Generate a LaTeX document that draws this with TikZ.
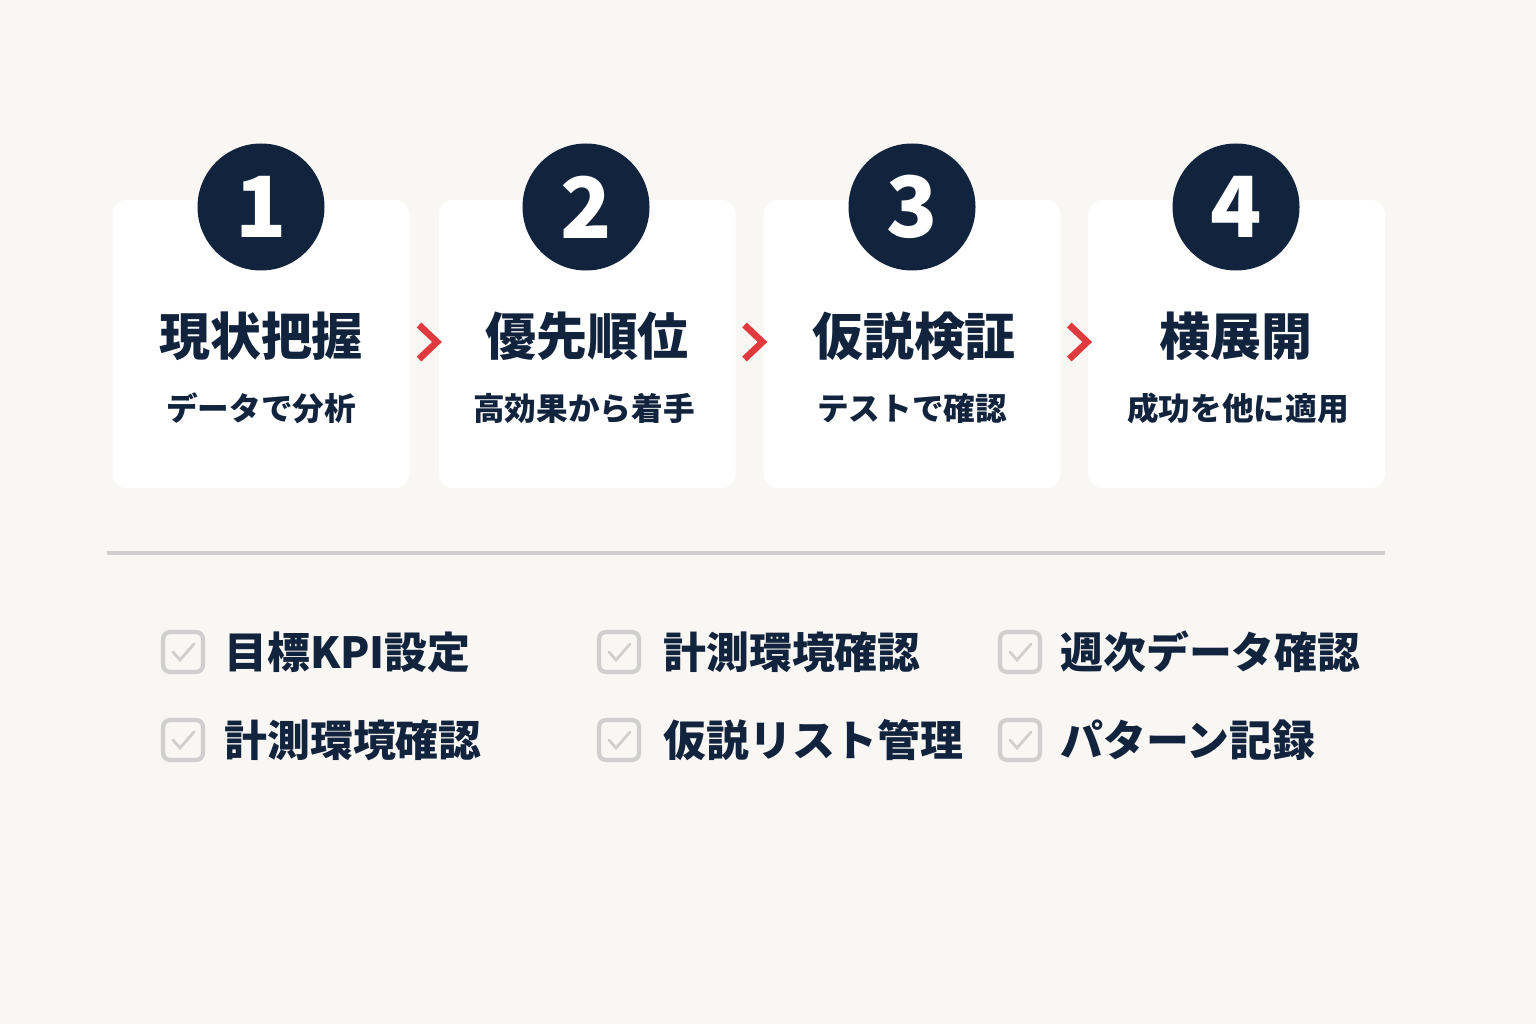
\documentclass[tikz,border=0pt]{standalone}
\usepackage{fontspec}
\setmainfont{Noto Sans CJK JP}
\usetikzlibrary{positioning,calc}
\definecolor{navy}{HTML}{12243D}
\definecolor{paper}{HTML}{F9F7F3}
\definecolor{chev}{HTML}{E03A3E}
\definecolor{boxgray}{HTML}{CFCFCF}
\tikzset{
  card/.style={rectangle, rounded corners=4pt, fill=white, minimum width=2.97cm, minimum height=2.88cm},
  numdot/.style={circle, fill=navy, text=white, minimum size=1.27cm, inner sep=0pt, font=\fontsize{24}{24}\selectfont\bfseries},
  steptitle/.style={text=navy, font=\fontsize{14.5}{16}\selectfont\bfseries},
  stepsub/.style={text=navy, font=\fontsize{9}{10}\selectfont\bfseries},
  chkbox/.style={rectangle, draw=boxgray, line width=1.2pt, rounded corners=2pt, minimum size=0.4cm, inner sep=0pt},
  chktext/.style={text=navy, anchor=west, font=\fontsize{12.2}{14}\selectfont\bfseries},
}
\newcommand{\tick}[1]{\draw[boxgray, line width=0.8pt, line cap=round] ($(#1)+(-0.1,0)$) -- ($(#1)+(-0.03,-0.08)$) -- ($(#1)+(0.11,0.08)$);}
\begin{document}
\begin{tikzpicture}
\fill[paper] (0,0) rectangle (15.36,10.24);
\useasboundingbox (0,0) rectangle (15.36,10.24);

% cards
\node[card] (c1) at (2.61,6.80) {};
\node[card] (c2) at (5.87,6.80) {};
\node[card] (c3) at (9.12,6.80) {};
\node[card] (c4) at (12.365,6.80) {};

% number badges
\node[numdot] (n1) at (2.61,8.17) {1};
\node[numdot] (n2) at (5.86,8.17) {2};
\node[numdot] (n3) at (9.12,8.17) {3};
\node[numdot] (n4) at (12.36,8.17) {4};

% titles and subtitles
\node[steptitle] (t1) at (2.61,6.88) {現状把握};
\node[steptitle] (t2) at (5.87,6.88) {優先順位};
\node[steptitle] (t3) at (9.14,6.88) {仮説検証};
\node[steptitle] (t4) at (12.36,6.88) {横展開};
\node[stepsub] (s1) at (2.61,6.16) {データで分析};
\node[stepsub] (s2) at (5.84,6.16) {高効果から着手};
\node[stepsub] (s3) at (9.12,6.16) {テストで確認};
\node[stepsub] (s4) at (12.38,6.16) {成功を他に適用};

% chevrons
\foreach \a/\b in {c1/c2,c2/c3,c3/c4}{
  \coordinate (m) at ($(\a.east)!0.5!(\b.west)+(0.04,0.02)$);
  \draw[chev, line width=1.9pt] ($(m)+(-0.09,0.17)$) -- ($(m)+(0.09,0)$) -- ($(m)+(-0.09,-0.17)$);
}

% divider
\coordinate (la) at (1.07,4.71);
\coordinate (lb) at (13.85,4.71);
\draw[boxgray, line width=1.2pt] (la) -- (lb);

% checklist
\node[chkbox] (b1) at (1.83,3.72) {};
\node[chkbox] (b2) at (6.19,3.72) {};
\node[chkbox] (b3) at (10.20,3.72) {};
\node[chkbox] (b4) at (1.83,2.84) {};
\node[chkbox] (b5) at (6.19,2.84) {};
\node[chkbox] (b6) at (10.20,2.84) {};
\foreach \b in {b1,b2,b3,b4,b5,b6}{\tick{\b}}
\node[chktext] (k1) at (2.12,3.72) {目標KPI設定};
\node[chktext] (k2) at (6.51,3.72) {計測環境確認};
\node[chktext] (k3) at (10.48,3.72) {週次データ確認};
\node[chktext] (k4) at (2.12,2.84) {計測環境確認};
\node[chktext] (k5) at (6.51,2.84) {仮説リスト管理};
\node[chktext] (k6) at (10.48,2.84) {パターン記録};
\end{tikzpicture}
\end{document}
